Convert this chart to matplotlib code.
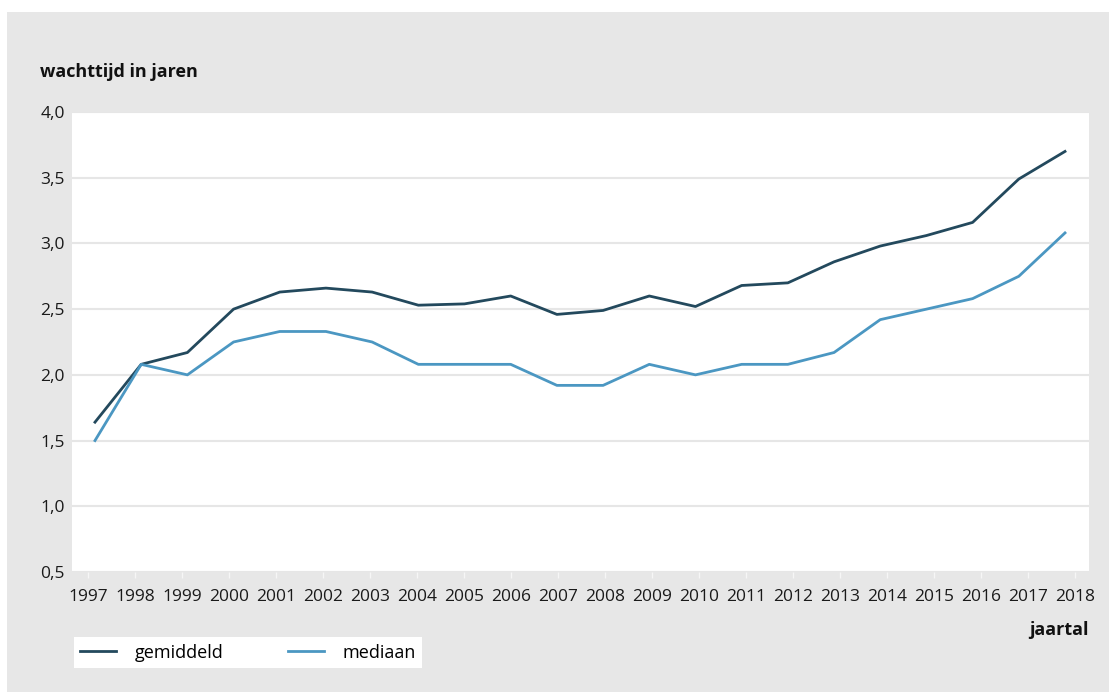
import matplotlib
matplotlib.use("Agg")
import matplotlib.pyplot as plt
from matplotlib.patches import Rectangle

years = list(range(1997, 2019))
year_labels = [str(y) for y in years]
gemiddeld = [1.64, 2.08, 2.17, 2.50, 2.63, 2.66, 2.63, 2.53, 2.54, 2.60, 2.46,
             2.49, 2.60, 2.52, 2.68, 2.70, 2.86, 2.98, 3.06, 3.16, 3.49, 3.70]
mediaan = [1.50, 2.08, 2.00, 2.25, 2.33, 2.33, 2.25, 2.08, 2.08, 2.08, 1.92,
           1.92, 2.08, 2.00, 2.08, 2.08, 2.17, 2.42, 2.50, 2.58, 2.75, 3.08]
yticks = [0.5, 1.0, 1.5, 2.0, 2.5, 3.0, 3.5, 4.0]
ytick_labels = [f"{v:.1f}".replace(".", ",") for v in yticks]

C_DARK = "#23495d"
C_LIGHT = "#4b97c2"
BG = "#e7e7e7"

plt.rcParams['font.family'] = ['Open Sans', 'DejaVu Sans']

W, H = 1109, 692
fig = plt.figure(figsize=(W / 100, H / 100), dpi=100)
fig.patch.set_facecolor("white")
fig.patches.append(Rectangle((7 / W, 0), 1 - 7 / W, 1 - 12 / H, transform=fig.transFigure,
                             facecolor=BG, edgecolor="none", zorder=-10))

L, R, T, B = 72, 1089, 112, 572
ax = fig.add_axes([L / W, 1 - B / H, (R - L) / W, (B - T) / H])
ax.set_facecolor("white")
for s in ax.spines.values():
    s.set_visible(False)

ax.plot(years, gemiddeld, color=C_DARK, lw=2.0, label="gemiddeld", zorder=3)
ax.plot(years, mediaan, color=C_LIGHT, lw=2.0, label="mediaan", zorder=3)

# data span: 1997 at px 95, 2018 at px 1065
ppy = (1065 - 95) / 21
x0 = 1997 - (95 - L) / ppy
x1 = 2018 + (R - 1065) / ppy
ax.set_xlim(x0, x1)
ax.set_ylim(0.5, 4.0)

tick_pos = [1997 + (88 - 95 + 47 * k) / ppy for k in range(len(years))]
ax.set_xticks(tick_pos)
ax.set_xticklabels(year_labels, fontsize=12.5, color="#1a1a1a")
ax.tick_params(axis="x", length=4, width=1, color="#f6f6f6", pad=8)

ax.set_yticks(yticks)
ax.set_yticklabels(ytick_labels, fontsize=12.5, color="#1a1a1a")
ax.tick_params(axis="y", length=0, pad=5)
ax.grid(axis="y", color="#e6e6e6", lw=1.5, zorder=0)
ax.set_axisbelow(True)

fig.text(40 / W, 1 - 72 / H, "wachttijd in jaren", fontsize=13, fontweight="bold",
         ha="left", va="center", color="#111111")
fig.text(R / W, 1 - 630 / H, "jaartal", fontsize=13, fontweight="bold",
         ha="right", va="center", color="#111111")

leg = fig.legend(loc="lower left", bbox_to_anchor=(74 / W, 1 - 668 / H), ncol=2,
                 frameon=True, fancybox=False, fontsize=13, handlelength=2.0,
                 handletextpad=1.0, columnspacing=3.6, borderpad=0.35,
                 borderaxespad=0)
leg.get_frame().set_facecolor("white")
leg.get_frame().set_edgecolor("none")
leg.get_frame().set_alpha(1)

fig.savefig("out.png", dpi=100)
